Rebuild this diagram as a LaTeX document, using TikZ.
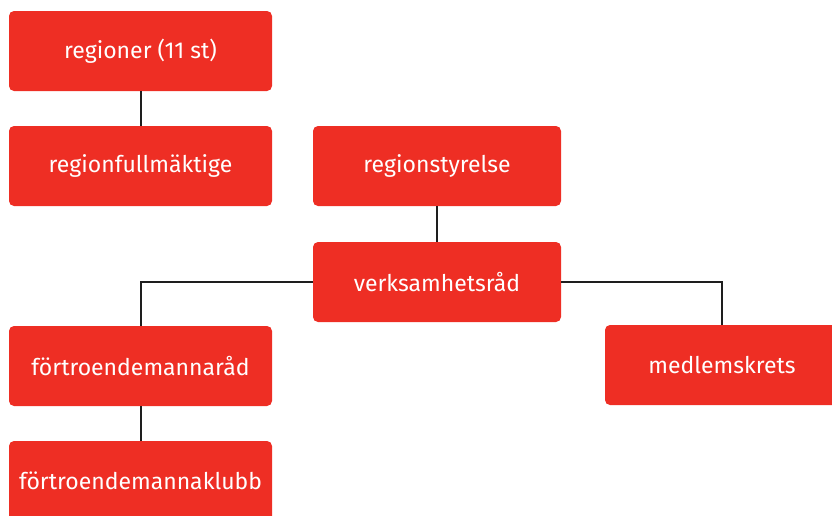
\documentclass[tikz,border=0pt]{standalone}
\usepackage{fontspec}
\setmainfont{Fira Sans}
\usepackage{tikz}
\usetikzlibrary{positioning}
\definecolor{orgred}{HTML}{EE2E24}
\definecolor{orgline}{HTML}{1E1E1E}
\tikzstyle{redblock}=[rectangle, rounded corners=5pt, fill=orgred, text=white, align=center, inner sep=0pt, minimum width=263pt, minimum height=80pt, font=\fontsize{23}{27}\selectfont]
\tikzstyle{redblock2}=[redblock, minimum width=248pt]
\tikzstyle{link}=[draw=orgline, line width=2pt]

\begin{document}
\begin{tikzpicture}[x=1pt, y=-1pt]

\useasboundingbox (0,0) rectangle (832,515);
\clip (0,0) rectangle (832,515);

\node[redblock](reg) at (140.5,51) {regioner (11 st)};
\node[redblock](fullm) at (140.5,166) {regionfullmäktige};
\node[redblock2](styr) at (437,166) {regionstyrelse};
\node[redblock2](verks) at (437,282) {verksamhetsråd};
\node[redblock](fmrad) at (140.5,366) {förtroendemannaråd};
\node[redblock](fmklubb) at (140.5,481) {förtroendemannaklubb};
\node[redblock, minimum width=234pt] (medl) at (722,365) {medlemskrets};

\draw[link](reg.south) -- (fullm.north);
\draw[link](styr.south) -- (verks.north);
\draw[link](verks.west) -| (fmrad.north);
\draw[link](verks.east) -| (medl.north);
\draw[link](fmrad.south) -- (fmklubb.north);

\end{tikzpicture}
\end{document}
